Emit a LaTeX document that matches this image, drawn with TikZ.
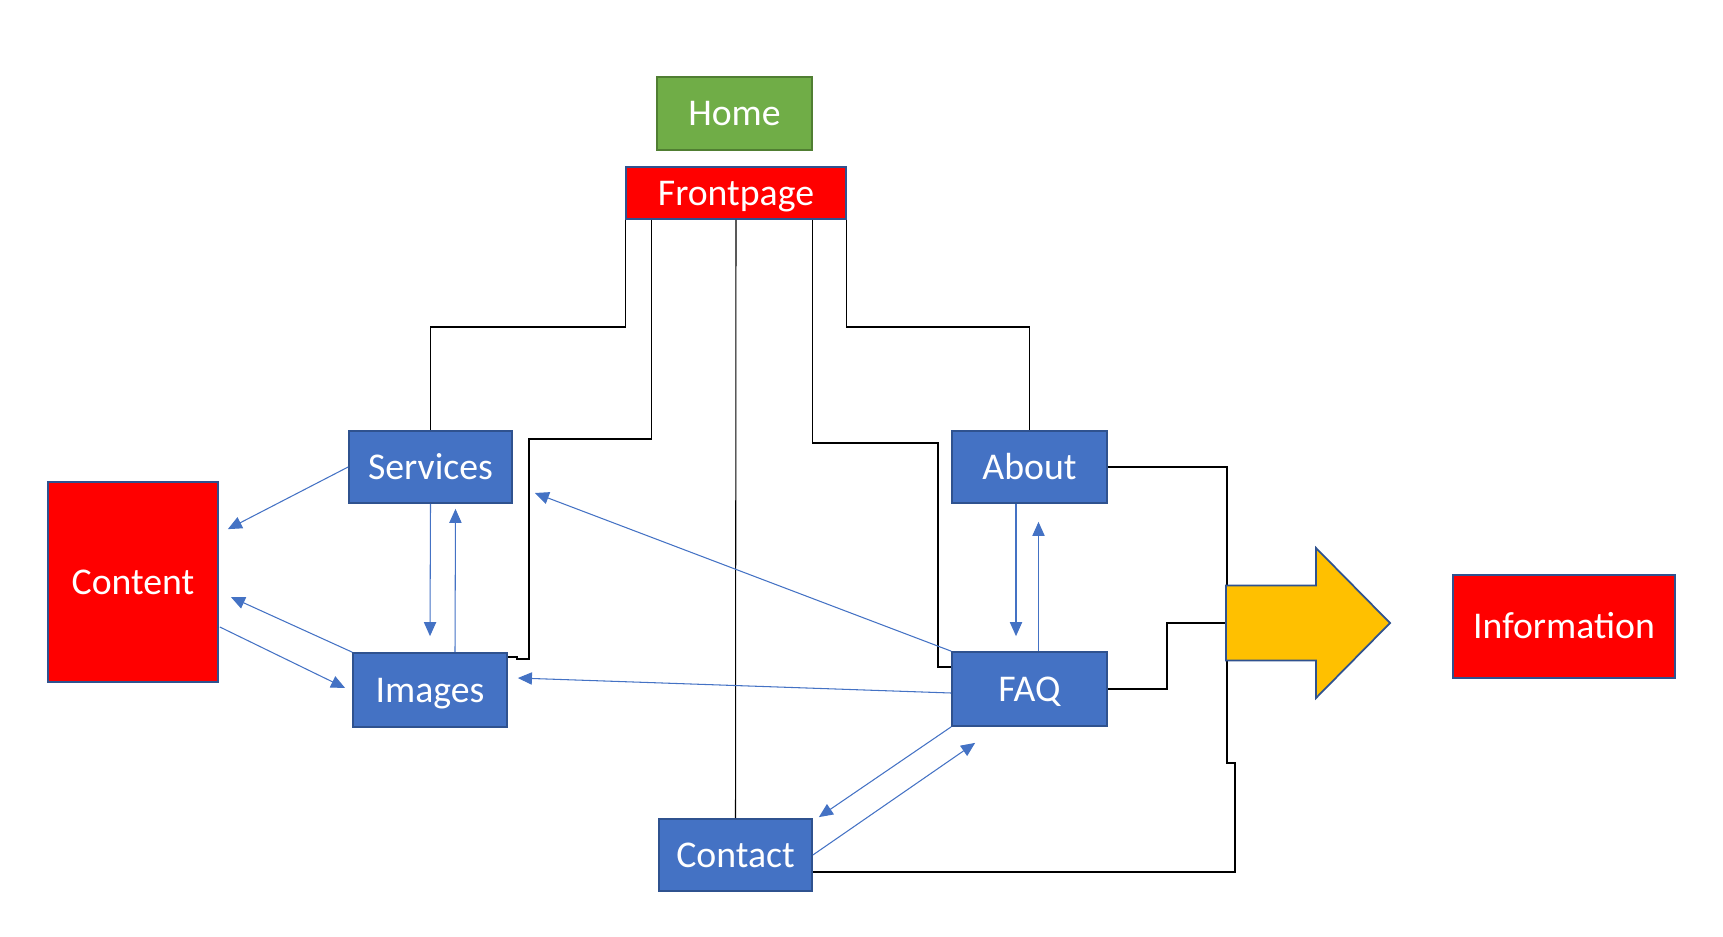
\documentclass[tikz,border=0pt]{standalone}
\usepackage{fontspec}
\setmainfont{Carlito}
\usetikzlibrary{calc,arrows.meta}

\definecolor{boxblue}{HTML}{4472C4}
\definecolor{boxedge}{HTML}{2F528F}
\definecolor{homegreen}{HTML}{70AD47}
\definecolor{homeedge}{HTML}{507E32}
\definecolor{arrowyellow}{HTML}{FFC000}

\begin{document}
\begin{tikzpicture}[
    x=0.02cm, y=-0.02cm,
    % === STYLES ===
    box/.style={draw=boxedge, line width=1pt, text=white, inner sep=0pt,
        text height=14.2pt, text depth=0pt, font=\fontsize{21.5}{26}\selectfont},
    blue box/.style={box, fill=boxblue},
    red box/.style={box, fill=red},
    green box/.style={box, fill=homegreen, draw=homeedge},
    link line/.style={black, line width=0.6pt},
    nav arrow/.style={draw=boxblue, line width=0.6pt, -{Triangle[length=8pt, width=7pt]}},
    big arrow/.style={fill=arrowyellow, draw=boxedge, line width=1pt},
]
    \useasboundingbox (0,0) rectangle (1723,936);

    % === PAGES ===
    \node[green box, minimum width=3.1cm, minimum height=1.46cm] (home) at (734.5,113.5) {Home};
    \node[red box, minimum width=4.4cm, minimum height=1.04cm] (front) at (736,193) {Frontpage};
    \node[blue box, minimum width=3.26cm, minimum height=1.44cm] (services) at (430.5,467) {Services};
    \node[red box, minimum width=3.4cm, minimum height=4cm] (content) at (133,582) {Content};
    \node[blue box, minimum width=3.08cm, minimum height=1.48cm] (images) at (430,690) {Images};
    \node[blue box, minimum width=3.1cm, minimum height=1.44cm] (about) at (1029.5,467) {About};
    \node[blue box, minimum width=3.1cm, minimum height=1.48cm] (faq) at (1029.5,689) {FAQ};
    \node[blue box, minimum width=3.06cm, minimum height=1.44cm] (contact) at (735.5,855) {Contact};
    \node[red box, minimum width=4.44cm, minimum height=2.06cm] (info) at (1564,626.5) {Information};

    \coordinate (tail) at (1226,623);

    % === LINKS FROM FRONTPAGE ===
    \draw[link line] (front.south west) -- (front.south west |- 0,327) -| (services.north);
    \draw[link line] ($(front.south west)+(26,0)$) |- (529,439) -- (529,659) -- (517,659)
        -- (517,657) -- (images.east |- 0,657);
    \draw[link line] (front.south) -- (contact.north);
    \draw[link line] ($(front.south east)+(-34,0)$) |- (938,443) -- (938,667) -- (faq.west |- 0,667);
    \draw[link line] (front.south east) -- (front.south east |- 0,327) -| (about.north);

    % === LINKS TO THE BIG ARROW ===
    \draw[link line] (about.east) -| (1227,763) -- (1235,763) -- (1235,872) -- (contact.east |- 0,872);
    \draw[link line] (faq.east) -| (1167,623) -- (tail);

    % === BIG ARROW ===
    \draw[big arrow] (tail) ++(0,-37.5) -- (1316,585.5) -- (1316,548) -- (1390,623)
        -- (1316,698) -- (1316,660.5) -- (1226,660.5) -- cycle;

    % === NAVIGATION ARROWS ===
    \draw[nav arrow] (services.west) -- ($(content.north east)+(9,48)$);
    \draw[nav arrow] ($(content.east)+(1,45)$) -- ($(images.west)+(-7,-2)$);
    \draw[nav arrow] (images.north west) -- ($(content.east)+(12,15)$);
    \draw[nav arrow] (services.south) -- ($(images.north)+(0,-16)$);
    \draw[nav arrow] ($(images.north)+(25,0)$) -- ($(services.south)+(25,5)$);
    \draw[nav arrow] (faq.north west) -- ($(services.east)+(22,26)$);
    \draw[nav arrow] ($(faq.west)+(0,4)$) -- ($(images.east)+(10,-12)$);
    \draw[nav arrow] ($(about.south)+(-13.5,0)$) -- ($(faq.north)+(-13.5,-15)$);
    \draw[nav arrow] ($(faq.north)+(9,0)$) -- ($(about.south)+(9,18)$);
    \draw[nav arrow] (faq.south west) -- ($(contact.north east)+(6,-1)$);
    \draw[nav arrow] (contact.east) -- ($(faq.south west)+(24,16)$);

\end{tikzpicture}
\end{document}
